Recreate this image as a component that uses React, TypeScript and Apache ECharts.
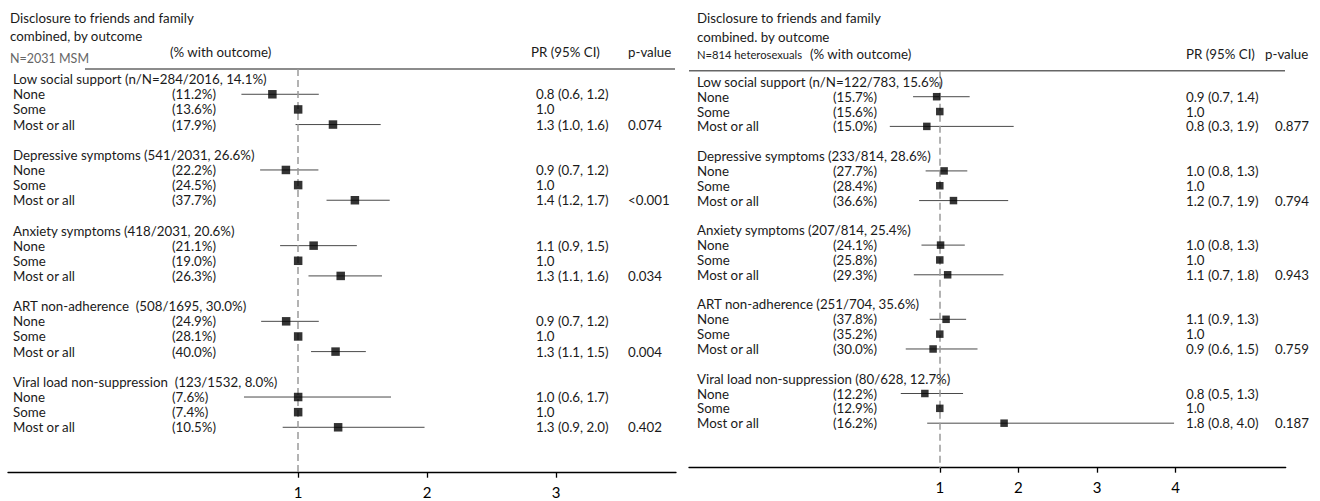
import React, { useEffect, useRef } from "react";
import * as echarts from "echarts";

// ---------------- DATA ----------------
const levels = ["None", "Some", "Most or all"];

const leftGroups = [
  "Low social support (n/N=284/2016, 14.1%)",
  "Depressive symptoms (541/2031, 26.6%)",
  "Anxiety symptoms (418/2031, 20.6%)",
  "ART non-adherence  (508/1695, 30.0%)",
  "Viral load non-suppression  (123/1532, 8.0%)",
];
const leftPct = [
  "(11.2%)", "(13.6%)", "(17.9%)",
  "(22.2%)", "(24.5%)", "(37.7%)",
  "(21.1%)", "(19.0%)", "(26.3%)",
  "(24.9%)", "(28.1%)", "(40.0%)",
  "(7.6%)", "(7.4%)", "(10.5%)",
];
const leftPR = [0.8, 1.0, 1.27, 0.905, 1.0, 1.44, 1.12, 1.0, 1.33, 0.907, 1.0, 1.29, 1.0, 1.0, 1.31];
const leftLo = [0.56, null, 0.98, 0.705, null, 1.22, 0.86, null, 1.08, 0.713, null, 1.1, 0.58, null, 0.88];
const leftHi = [1.16, null, 1.64, 1.157, null, 1.71, 1.455, null, 1.65, 1.16, null, 1.525, 1.72, null, 1.98];
const leftPRText = [
  "0.8 (0.6, 1.2)", "1.0", "1.3 (1.0, 1.6)",
  "0.9 (0.7, 1.2)", "1.0", "1.4 (1.2, 1.7)",
  "1.1 (0.9, 1.5)", "1.0", "1.3 (1.1, 1.6)",
  "0.9 (0.7, 1.2)", "1.0", "1.3 (1.1, 1.5)",
  "1.0 (0.6, 1.7)", "1.0", "1.3 (0.9, 2.0)",
];
const leftP = ["0.074", "<0.001", "0.034", "0.004", "0.402"];

const rightGroups = [
  "Low social support (n/N=122/783, 15.6%)",
  "Depressive symptoms (233/814, 28.6%)",
  "Anxiety symptoms (207/814, 25.4%)",
  "ART non-adherence (251/704, 35.6%)",
  "Viral load non-suppression (80/628, 12.7%)",
];
const rightPct = [
  "(15.7%)", "(15.6%)", "(15.0%)",
  "(27.7%)", "(28.4%)", "(36.6%)",
  "(24.1%)", "(25.8%)", "(29.3%)",
  "(37.8%)", "(35.2%)", "(30.0%)",
  "(12.2%)", "(12.9%)", "(16.2%)",
];
const rightPR = [0.96, 1.0, 0.835, 1.055, 1.0, 1.174, 1.01, 1.0, 1.1, 1.08, 1.0, 0.915, 0.81, 1.0, 1.818];
const rightLo = [0.66, null, 0.364, 0.82, null, 0.737, 0.767, null, 0.67, 0.873, null, 0.567, 0.504, null, 0.84];
const rightHi = [1.38, null, 1.94, 1.35, null, 1.87, 1.318, null, 1.81, 1.335, null, 1.48, 1.296, null, 3.98];
const rightPRText = [
  "0.9 (0.7, 1.4)", "1.0", "0.8 (0.3, 1.9)",
  "1.0 (0.8, 1.3)", "1.0", "1.2 (0.7, 1.9)",
  "1.0 (0.8, 1.3)", "1.0", "1.1 (0.7, 1.8)",
  "1.1 (0.9, 1.3)", "1.0", "0.9 (0.6, 1.5)",
  "0.8 (0.5, 1.3)", "1.0", "1.8 (0.8, 4.0)",
];
const rightP = ["0.877", "0.794", "0.943", "0.759", "0.187"];

const leftTicks = [1, 2, 3];
const rightTicks = [1, 2, 3, 4];

// ---------------- LAYOUT ----------------
const FONT = "Lato, 'Liberation Sans', sans-serif";
const TXT = "#1a1a1a";
const FS = 13.3;

type Panel = {
  groups: string[]; pct: string[]; pr: number[]; lo: (number | null)[]; hi: (number | null)[];
  prText: string[]; p: string[]; ticks: number[];
  gridLeft: number; gridTop: number; gridW: number; gridH: number;
  xMin: number; xMax: number; yMin: number; yMax: number;
  colLabel: number; colPct: number; colPR: number; colP: number; marker: number;
};

const panels: Panel[] = [
  {
    groups: leftGroups, pct: leftPct, pr: leftPR, lo: leftLo, hi: leftHi, prText: leftPRText, p: leftP, ticks: leftTicks,
    gridLeft: 8, gridTop: 69, gridW: 668, gridH: 403.7, xMin: -1.25, xMax: 3.93, yMin: -0.67, yMax: 26,
    colLabel: 13, colPct: 172, colPR: 536, colP: 628, marker: 8.5,
  },
  {
    groups: rightGroups, pct: rightPct, pr: rightPR, lo: rightLo, hi: rightHi, prText: rightPRText, p: rightP, ticks: rightTicks,
    gridLeft: 689, gridTop: 70.7, gridW: 596.7, gridH: 397, xMin: -2.19, xMax: 5.4, yMin: -0.753, yMax: 26,
    colLabel: 697, colPct: 833, colPR: 1186, colP: 1275, marker: 7.5,
  },
];

const rowOf = (i: number) => Math.floor(i / 3) * 5 + 1 + (i % 3);

function buildOption() {
  const grid: any[] = [];
  const xAxis: any[] = [];
  const yAxis: any[] = [];
  const series: any[] = [];

  panels.forEach((pn, k) => {
    grid.push({ left: pn.gridLeft, top: pn.gridTop, width: pn.gridW, height: pn.gridH, containLabel: false });
    xAxis.push({
      type: "value", gridIndex: k, min: pn.xMin, max: pn.xMax, position: "bottom",
      axisLine: { show: true, onZero: false, lineStyle: { color: "#000", width: 1.3 } },
      axisTick: { show: true, customValues: pn.ticks, length: 5, lineStyle: { color: "#000", width: 1.3 } },
      axisLabel: { show: true, customValues: pn.ticks, fontSize: 15, color: "#000", margin: 12, fontFamily: FONT },
      splitLine: { show: false },
    });
    yAxis.push({ type: "value", gridIndex: k, min: pn.yMin, max: pn.yMax, inverse: true, show: false });

    // CI lines + reference dashed line
    const ciData: any[] = [];
    pn.pr.forEach((_, i) => {
      if (pn.lo[i] != null && pn.hi[i] != null) ciData.push([pn.lo[i], pn.hi[i], rowOf(i)]);
    });
    series.push({
      type: "custom", xAxisIndex: k, yAxisIndex: k, z: 2,
      data: ciData, encode: { x: [0, 1], y: 2 },
      renderItem: (params: any, api: any) => {
        const a = api.coord([api.value(0), api.value(2)]);
        const b = api.coord([api.value(1), api.value(2)]);
        return {
          type: "line",
          shape: { x1: a[0], y1: a[1], x2: b[0], y2: b[1] },
          style: { stroke: "#4a4a4a", lineWidth: 1 },
        };
      },
      markLine: {
        silent: true, symbol: "none", label: { show: false },
        lineStyle: { type: [7, 4], color: "#9a9a9a", width: 1.5 },
        data: [{ xAxis: 1 }],
      },
    });

    // markers
    series.push({
      type: "scatter", xAxisIndex: k, yAxisIndex: k, z: 5,
      symbol: "rect", symbolSize: pn.marker,
      itemStyle: { color: "#000" },
      data: pn.pr.map((v, i) => [v, rowOf(i)]),
    });

    // row texts
    const items: { x: number; row: number; text: string }[] = [];
    pn.groups.forEach((g, gi) => {
      items.push({ x: pn.colLabel, row: gi * 5, text: g });
      items.push({ x: pn.colP, row: gi * 5 + 3, text: pn.p[gi] });
    });
    pn.pct.forEach((t, i) => {
      items.push({ x: pn.colLabel, row: rowOf(i), text: levels[i % 3] });
      items.push({ x: pn.colPct, row: rowOf(i), text: t });
      items.push({ x: pn.colPR, row: rowOf(i), text: pn.prText[i] });
    });
    series.push({
      type: "custom", xAxisIndex: k, yAxisIndex: k, z: 6, clip: false,
      data: items.map((it) => [0, it.row]), encode: { x: 0, y: 1 },
      renderItem: (params: any, api: any) => {
        const it = items[params.dataIndex];
        const y = api.coord([0, api.value(1)])[1];
        return {
          type: "text", x: it.x, y,
          style: {
            text: it.text, fill: TXT, fontSize: FS, fontFamily: FONT,
            align: "left", verticalAlign: "middle", textAlign: "left", textVerticalAlign: "middle",
          },
        };
      },
    });
  });

  const gtext = (x: number, y: number, text: string, size = FS, color = TXT) => ({
    type: "text", x, y,
    style: { text, fill: color, fontSize: size, fontFamily: FONT, align: "left", verticalAlign: "middle", textAlign: "left", textVerticalAlign: "middle" },
  });

  const graphic: any[] = [
    gtext(10, 18, "Disclosure to friends and family"),
    gtext(10, 36, "combined, by outcome"),
    gtext(10, 58, "N=2031 MSM", 12.5, "#666"),
    gtext(170, 52, "(% with outcome)"),
    gtext(531, 52, "PR (95% CI)"),
    gtext(628, 52, "p-value"),
    { type: "line", shape: { x1: 85, y1: 69, x2: 675, y2: 69 }, style: { stroke: "#666", lineWidth: 1.5 } },

    gtext(697, 18, "Disclosure to friends and family"),
    gtext(697, 37, "combined. by outcome"),
    gtext(697, 54, "N=814 heterosexuals", 11.2, "#222"),
    gtext(810, 54, "(% with outcome)"),
    gtext(1186, 54, "PR (95% CI)"),
    gtext(1265, 54, "p-value"),
    { type: "line", shape: { x1: 689, y1: 70.7, x2: 1285, y2: 70.7 }, style: { stroke: "#666", lineWidth: 1.5 } },
  ];

  return { animation: false, backgroundColor: "#fff", grid, xAxis, yAxis, series, graphic };
}

export default function App() {
  const ref = useRef<HTMLDivElement>(null);
  useEffect(() => {
    if (!ref.current) return;
    const chart = echarts.init(ref.current, undefined, { renderer: "svg" });
    chart.setOption(buildOption() as any);
    return () => chart.dispose();
  }, []);
  return (
    <div
      ref={ref}
      style={{ position: "absolute", left: 0, top: 0, width: 1320, height: 501, background: "#fff" }}
    />
  );
}
